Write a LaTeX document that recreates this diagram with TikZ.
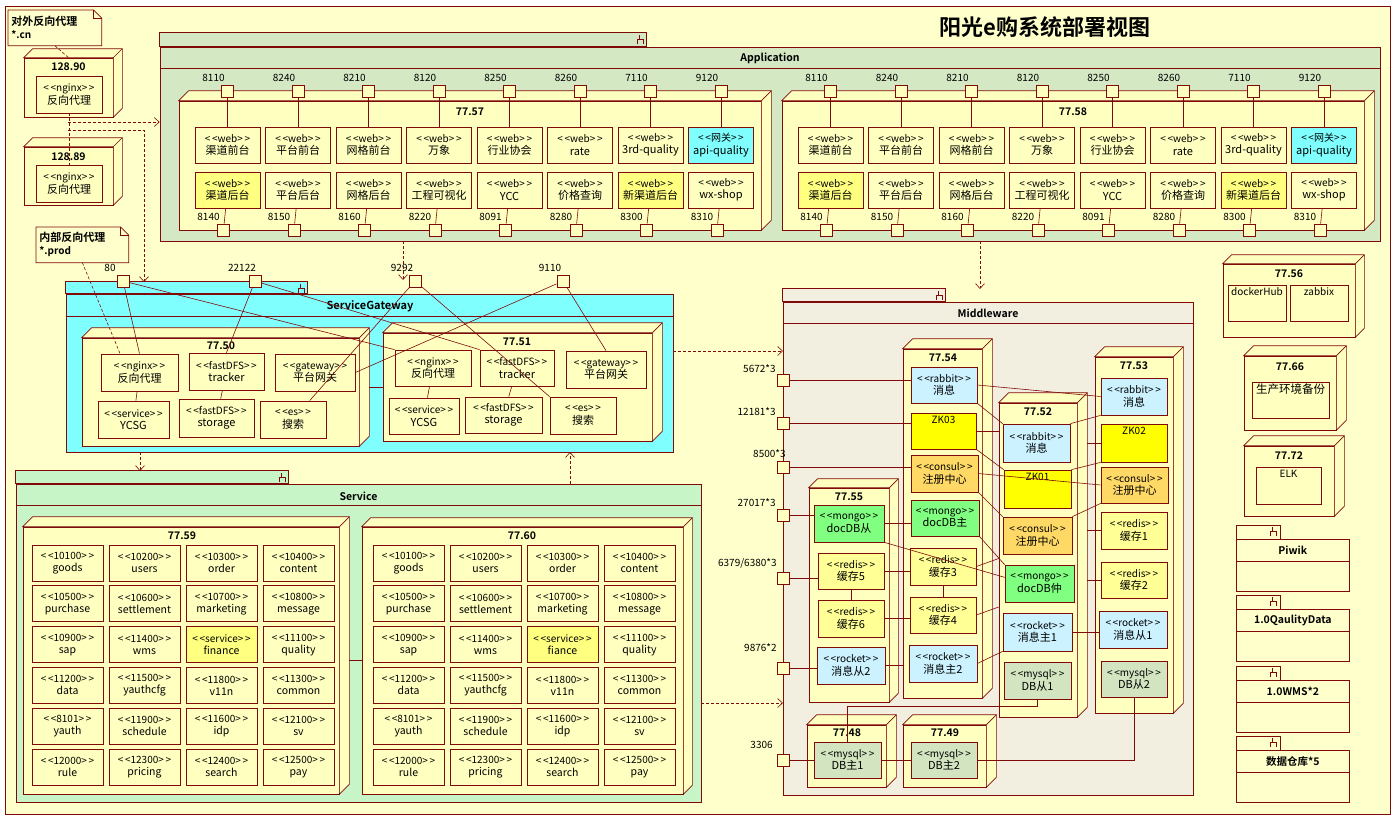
\documentclass[tikz,border=0pt]{standalone}
\usepackage{fontspec}
\setmainfont{Noto Sans CJK SC}[BoldFont={Noto Sans CJK SC Bold}]
\usetikzlibrary{arrows.meta,calc}

\definecolor{umlred}{RGB}{128,10,10}
\definecolor{bgyellow}{RGB}{255,255,204}
\definecolor{nodefill}{RGB}{255,255,192}
\definecolor{appgreen}{RGB}{212,232,196}
\definecolor{gwcyan}{RGB}{128,255,255}
\definecolor{svgreen}{RGB}{200,245,200}
\definecolor{mwbeige}{RGB}{242,238,224}
\definecolor{hlyellow}{RGB}{255,255,128}
\definecolor{palecyan}{RGB}{204,242,255}
\definecolor{zkyellow}{RGB}{255,255,0}
\definecolor{consulorange}{RGB}{255,217,102}
\definecolor{mongogreen}{RGB}{128,255,128}
\definecolor{redisyellow}{RGB}{255,255,150}
\definecolor{mysqlgreen}{RGB}{210,228,192}

% stereotype line, << >> kept as two signs each
\newcommand\stt[1]{{\fontsize{10}{11}\selectfont <\,<#1>\,>}}
% top and side faces of a device box
\newcommand\faces[2]{%
  \draw[dev] (#1.north west) -- ++(#2,-#2) -| ($(#1.south east)+(#2,-#2)$) -- (#1.south east) -- (#1.north east) -- cycle;
  \draw[umlred] (#1.north east) -- ++(#2,-#2);}
% little package sign in a tab
\newcommand\pkgicon[2]{%
  \draw[umlred, line width=0.5pt] (#1-10,#2+11) -- (#1-10,#2+6) -- (#1-4,#2+6) -- (#1-4,#2+11) (#1-8,#2+6) -- (#1-8,#2+2);}

\begin{document}
\begin{tikzpicture}[x=1pt, y=-1pt, line width=0.7pt,
    every node/.style={font=\fontsize{9}{11}\selectfont},
    dev/.style={draw=umlred, fill=nodefill},
    art/.style={draw=umlred, fill=nodefill, align=center, inner sep=0pt, minimum width=65, minimum height=36, font=\fontsize{11}{12.5}\selectfont},
    port/.style={draw=umlred, fill=nodefill, inner sep=0pt, minimum size=12},
    portlabel/.style={inner sep=0pt, font=\fontsize{10}{11}\selectfont},
    devtitle/.style={inner sep=0pt, font=\bfseries\fontsize{10.5}{12}\selectfont},
    pkg/.style={draw=umlred},
    pkgtitle/.style={inner sep=0pt, font=\bfseries\fontsize{10.5}{12}\selectfont},
    wire/.style={draw=umlred, line width=0.6pt},
    dashline/.style={draw=umlred, line width=0.6pt, dash pattern=on 3pt off 2pt},
    dep/.style={dashline, -{Straight Barb[length=5pt, width=9pt]}},
    lbltop/.style={anchor=north, inner sep=3pt, font=\fontsize{10}{11}\selectfont},
    note/.style={anchor=north west, align=left, inner sep=3pt, font=\bfseries\fontsize{11}{13}\selectfont}]

    \useasboundingbox (0,0) rectangle (1396,819);
    \fill[white] (0,0) rectangle (1396,819);
    \draw[umlred, fill=bgyellow] (5,6) rectangle (1390,814);

    \node[font=\bfseries\fontsize{22}{26}\selectfont] (title) at (1045,27) {阳光e购系统部署视图};

    % external proxies
    \node[note, text width=87, minimum height=35] (noteA) at (8,10) {对外反向代理\\{\fontsize{10}{12}\selectfont *.cn}};
    \draw[umlred] (noteA.north west) -- ($(noteA.north east)+(-8,0)$) -- ($(noteA.north east)+(0,8)$) -- (noteA.south east) -- (noteA.south west) -- cycle;
    \draw[umlred] ($(noteA.north east)+(-8,0)$) |- ($(noteA.north east)+(0,8)$);

    \node[dev, minimum width=89, minimum height=59, inner sep=0pt] (n90) at (68.5,87.5) {};
    \faces{n90}{9}
    \node[devtitle] (t90) at (68.5,67) {128.90};
    \node[art, minimum width=66, minimum height=37] (r90) at (69,94.5) {\stt{nginx}\\反向代理};

    \node[dev, minimum width=89, minimum height=58, inner sep=0pt] (n89) at (68.5,176) {};
    \faces{n89}{9}
    \node[devtitle] (t89) at (68.5,157) {128.89};
    \node[art, minimum width=66, minimum height=37] (r89) at (69,183.5) {\stt{nginx}\\反向代理};

    \draw[dashline] (noteA.south) -- (n90.north);
    \draw[dashline] (r90.south) -- (r89.north);

    \node[note, text width=86, minimum height=35] (noteB) at (36,227) {内部反向代理\\{\fontsize{10}{12}\selectfont *.prod}};
    \draw[umlred] (noteB.north west) -- ($(noteB.north east)+(-8,0)$) -- ($(noteB.north east)+(0,8)$) -- (noteB.south east) -- (noteB.south west) -- cycle;
    \draw[umlred] ($(noteB.north east)+(-8,0)$) |- ($(noteB.north east)+(0,8)$);

    % Application
    \node[pkg, fill=appgreen, minimum width=1220, minimum height=194, inner sep=0pt] (app) at (770,144) {};
    \draw[pkg, fill=appgreen] (app.north west) rectangle ++(487,-14);
    \pkgicon{647}{33}
    \draw[umlred] ($(app.north west)+(0,22)$) -- ($(app.north east)+(0,22)$);
    \node[pkgtitle] (appname) at (770,58) {Application};

    \foreach \h/\dx in {57/0,58/603}{
        \node[dev, minimum width=582, minimum height=129, inner sep=0pt] (n\h) at (470+\dx,165.5) {};
        \faces{n\h}{10}
        \node[devtitle] (t\h) at (470+\dx,112) {77.\h};
        \foreach \st/\nm/\fl/\pa [count=\k from 0] in {web/渠道前台/nodefill/8110, web/平台前台/nodefill/8240, web/网格前台/nodefill/8210, web/万象/nodefill/8120, web/行业协会/nodefill/8250, web/rate/nodefill/8260, web/3rd-quality/nodefill/7110, 网关/api-quality/gwcyan/9120}{
            \node[art, fill=\fl] (u\h-\k) at (227.5+\dx+70.5*\k,145) {\stt{\st}\\\nm};
            \node[port] (pu\h-\k) at (227.5+\dx+70.5*\k,91) {};
            \node[portlabel] (lu\h-\k) at (213.5+\dx+70.5*\k,78) {\pa};
            \draw[wire] (pu\h-\k) -- (u\h-\k);
        }
        \foreach \st/\nm/\fl/\pa [count=\k from 0] in {web/渠道后台/hlyellow/8140, web/平台后台/nodefill/8150, web/网格后台/nodefill/8160, web/工程可视化/nodefill/8220, web/YCC/nodefill/8091, web/价格查询/nodefill/8280, web/新渠道后台/hlyellow/8300, web/wx-shop/nodefill/8310}{
            \node[art, fill=\fl] (b\h-\k) at (227.5+\dx+70.5*\k,190) {\stt{\st}\\\nm};
            \node[port] (pb\h-\k) at (223.5+\dx+70.5*\k,230) {};
            \node[portlabel] (lb\h-\k) at (208.5+\dx+70.5*\k,217) {\pa};
            \draw[wire] (b\h-\k) -- (pb\h-\k);
        }
    }

    % ServiceGateway
    \node[pkg, fill=gwcyan, minimum width=607, minimum height=158, inner sep=0pt] (sg) at (369.5,373) {};
    \draw[pkg, fill=gwcyan] (sg.north west) rectangle ++(242,-12);
    \pkgicon{308}{282}
    \draw[umlred] ($(sg.north west)+(0,23)$) -- ($(sg.north east)+(0,23)$);
    \node[pkgtitle, font=\bfseries\fontsize{11}{13}\selectfont] (sgname) at (370,306) {ServiceGateway};

    \node[dev, minimum width=277, minimum height=108, inner sep=0pt] (n50) at (220.5,392) {};
    \faces{n50}{10}
    \node[devtitle] (t50) at (221,346) {77.50};
    \node[art, minimum width=77, minimum height=37] (g50nginx) at (139.5,372.5) {\stt{nginx}\\反向代理};
    \node[art, minimum width=75, minimum height=37] (g50tracker) at (226.5,371.5) {\stt{fastDFS}\\tracker};
    \node[art, minimum width=80, minimum height=37] (g50gateway) at (315,372.5) {\stt{gateway}\\平台网关};
    \node[art, minimum width=71, minimum height=37] (g50service) at (133.5,419.5) {\stt{service}\\YCSG};
    \node[art, minimum width=75, minimum height=38] (g50storage) at (216.5,418) {\stt{fastDFS}\\storage};
    \node[art, minimum width=66, minimum height=37] (g50es) at (293,419.5) {\stt{es}\\搜索};

    \node[dev, minimum width=269, minimum height=108, inner sep=0pt] (n51) at (517.5,387) {};
    \faces{n51}{10}
    \node[devtitle] (t51) at (517,342) {77.51};
    \node[art, minimum width=76] (g51nginx) at (433,368) {\stt{nginx}\\反向代理};
    \node[art, minimum width=74] (g51tracker) at (517,368) {\stt{fastDFS}\\tracker};
    \node[art, minimum width=80, minimum height=37] (g51gateway) at (606,369.5) {\stt{gateway}\\平台网关};
    \node[art, minimum width=70] (g51service) at (424,416) {\stt{service}\\YCSG};
    \node[art, minimum width=77] (g51storage) at (503.5,415) {\stt{fastDFS}\\storage};
    \node[art, minimum width=66, minimum height=37] (g51es) at (583,415.5) {\stt{es}\\搜索};

    \node[port] (p80) at (123,281) {};
    \node[port] (p22122) at (255,281) {};
    \node[port] (p9292) at (415,281) {};
    \node[port] (p9110) at (563,281) {};
    \node[portlabel] (l80) at (110,268) {80};
    \node[portlabel] (l22122) at (242,268) {22122};
    \node[portlabel] (l9292) at (402,268) {9292};
    \node[portlabel] (l9110) at (550,268) {9110};

    \draw[wire] (p80) -- (g50nginx.north);
    \draw[wire] (p80) -- (g51nginx.north west);
    \draw[wire] (p22122) -- (g50tracker.north);
    \draw[wire] (p22122) -- (g51tracker.north west);
    \draw[wire] (p9292) -- ($(g50es.north)!0.5!(g50es.north east)$);
    \draw[wire] (p9292) -- (g51es.north west);
    \draw[wire] (p9110) -- (g50gateway.east);
    \draw[wire] (p9110) -- (g51gateway.north);
    \draw[wire] (g50nginx) -- (g50service);
    \draw[wire] (g50tracker) -- (g50storage);
    \draw[wire] (g51nginx) -- (g51service);
    \draw[wire] (g51tracker) -- (g51storage);
    \draw[wire] (n51.west) -- ($(n51.west -| n50.east)+(10,0)$);
    \draw[dashline] (noteB.south) -- ($(g50nginx.north west)!0.5!(g50nginx.north)$);

    % Service
    \node[pkg, fill=svgreen, minimum width=685, minimum height=318, inner sep=0pt] (sv) at (358.5,643) {};
    \draw[pkg, fill=svgreen] (sv.north west) rectangle ++(273,-13);
    \pkgicon{289}{471}
    \draw[umlred] ($(sv.north west)+(0,22)$) -- ($(sv.north east)+(0,22)$);
    \node[pkgtitle] (svname) at (358.5,496) {Service};

    \node[dev, minimum width=316, minimum height=267, inner sep=0pt] (n59) at (181,660.5) {};
    \faces{n59}{10}
    \node[devtitle] (t59) at (182,536) {77.59};
    \node[dev, minimum width=321, minimum height=267, inner sep=0pt] (n60) at (522.5,660.5) {};
    \faces{n60}{9}
    \node[devtitle] (t60) at (522,536) {77.60};
    \draw[wire] (n60.west) -- ($(n60.west -| n59.east)+(10,0)$);

    \foreach \h/\xo/\fn in {59/67.5/finance, 60/408.5/fiance}{
        \foreach \st/\nm/\fl [count=\k from 0] in {10100/goods/nodefill, 10200/users/nodefill, 10300/order/nodefill, 10400/content/nodefill, 10500/purchase/nodefill, 10600/settlement/nodefill, 10700/marketing/nodefill, 10800/message/nodefill, 10900/sap/nodefill, 11400/wms/nodefill, service/\fn/hlyellow, 11100/quality/nodefill, 11200/data/nodefill, 11500/yauthcfg/nodefill, 11800/v11n/nodefill, 11300/common/nodefill, 8101/yauth/nodefill, 11900/schedule/nodefill, 11600/idp/nodefill, 12100/sv/nodefill, 12000/rule/nodefill, 12300/pricing/nodefill, 12400/search/nodefill, 12500/pay/nodefill}{
            \pgfmathtruncatemacro\rw{\k/4}
            \pgfmathtruncatemacro\cl{mod(\k,4)}
            \node[art, fill=\fl, minimum width=71, font=\fontsize{10.5}{12}\selectfont] (s\h-\k) at (\xo+77*\cl,563+40.8*\rw) {\stt{\st}\\\nm};
        }
    }

    % Middleware
    \node[pkg, fill=mwbeige, minimum width=410, minimum height=493, inner sep=0pt] (mw) at (988,548.5) {};
    \draw[pkg, fill=mwbeige] (mw.north west) rectangle ++(163,-13);
    \pkgicon{946}{289}
    \draw[umlred] ($(mw.north west)+(0,22)$) -- ($(mw.north east)+(0,22)$);
    \node[pkgtitle] (mwname) at (988,313) {Middleware};

    \node[dev, minimum width=80, minimum height=214, inner sep=0pt] (n55) at (849,595) {};
    \faces{n55}{9}
    \node[devtitle] (t55) at (849,497) {77.55};
    \node[dev, minimum width=79, minimum height=349, inner sep=0pt] (n54) at (942.5,523.5) {};
    \faces{n54}{10}
    \node[devtitle] (t54) at (943,358) {77.54};
    \node[dev, minimum width=78, minimum height=314, inner sep=0pt] (n52) at (1038,560) {};
    \faces{n52}{10}
    \node[devtitle] (t52) at (1038,412) {77.52};
    \node[dev, minimum width=78, minimum height=356, inner sep=0pt] (n53) at (1134,535) {};
    \faces{n53}{10}
    \node[devtitle] (t53) at (1134,366) {77.53};
    \node[dev, minimum width=79, minimum height=62, inner sep=0pt] (n48) at (846.5,756) {};
    \faces{n48}{10}
    \node[devtitle] (t48) at (847,733) {77.48};
    \node[dev, minimum width=83, minimum height=62, inner sep=0pt] (n49) at (944.5,756) {};
    \faces{n49}{10}
    \node[devtitle] (t49) at (945,733) {77.49};

    \node[art, fill=palecyan, minimum width=66] (m54rabbit) at (944,385) {\stt{rabbit}\\消息};
    \node[art, fill=zkyellow, label={[lbltop]north:ZK03}] (m54zk) at (943.5,431) {};
    \node[art, fill=consulorange, minimum width=67, minimum height=37] (m54consul) at (944.5,473.5) {\stt{consul}\\注册中心};
    \node[art, fill=mongogreen, minimum width=68] (m54mongo) at (945,518) {\stt{mongo}\\docDB主};
    \node[art, fill=redisyellow, minimum width=66, minimum height=37] (m54redis3) at (943,566.5) {\stt{redis}\\缓存3};
    \node[art, fill=redisyellow, minimum width=66] (m54redis4) at (943,615) {\stt{redis}\\缓存4};
    \node[art, fill=palecyan, minimum width=68, minimum height=37] (m54rocket) at (943,663.5) {\stt{rocket}\\消息主2};

    \node[art, fill=mongogreen, minimum width=70, minimum height=37] (m55mongo) at (849,523.5) {\stt{mongo}\\docDB从};
    \node[art, fill=redisyellow, minimum width=66] (m55redis5) at (851,571) {\stt{redis}\\缓存5};
    \node[art, fill=redisyellow, minimum width=66, minimum height=37] (m55redis6) at (851,618.5) {\stt{redis}\\缓存6};
    \node[art, fill=palecyan, minimum width=68, minimum height=37] (m55rocket) at (851,665.5) {\stt{rocket}\\消息从2};

    \node[art, fill=palecyan, minimum width=67, minimum height=38] (m52rabbit) at (1036.5,443) {\stt{rabbit}\\消息};
    \node[art, fill=zkyellow, minimum width=67, minimum height=38, label={[lbltop]north:ZK01}] (m52zk) at (1037.5,489) {};
    \node[art, fill=consulorange, minimum width=69, minimum height=37] (m52consul) at (1037.5,535.5) {\stt{consul}\\注册中心};
    \node[art, fill=mongogreen, minimum width=69, minimum height=37] (m52mongo) at (1039.5,583.5) {\stt{mongo}\\docDB仲};
    \node[art, fill=palecyan, minimum width=69, minimum height=38] (m52rocket) at (1037.5,632) {\stt{rocket}\\消息主1};
    \node[art, fill=mysqlgreen, minimum width=67, minimum height=37] (m52mysql) at (1037.5,680.5) {\stt{mysql}\\DB从1};

    \node[art, fill=palecyan, minimum width=66, minimum height=37] (m53rabbit) at (1134,396.5) {\stt{rabbit}\\消息};
    \node[art, fill=zkyellow, minimum width=66, minimum height=38, label={[lbltop]north:ZK02}] (m53zk) at (1134,443) {};
    \node[art, fill=consulorange, minimum width=67] (m53consul) at (1134.5,485) {\stt{consul}\\注册中心};
    \node[art, fill=redisyellow, minimum width=66, minimum height=37] (m53redis1) at (1134,530.5) {\stt{redis}\\缓存1};
    \node[art, fill=redisyellow, minimum width=66] (m53redis2) at (1134,580) {\stt{redis}\\缓存2};
    \node[art, fill=palecyan, minimum width=68, minimum height=37] (m53rocket) at (1133,629.5) {\stt{rocket}\\消息从1};
    \node[art, fill=mysqlgreen, minimum width=66] (m53mysql) at (1134,679) {\stt{mysql}\\DB从2};

    \node[art, fill=mysqlgreen, minimum width=67] (m48mysql) at (847.5,760) {\stt{mysql}\\DB主1};
    \node[art, fill=mysqlgreen, minimum width=66] (m49mysql) at (944,760) {\stt{mysql}\\DB主2};

    \node[port] (mq5672) at (783,380) {};
    \node[port] (mq12181) at (783,423) {};
    \node[port] (mq8500) at (783,467) {};
    \node[port] (mq27017) at (783,515) {};
    \node[port] (mq6379) at (783,578) {};
    \node[port] (mq9876) at (783,668) {};
    \node[port] (mq3306) at (783,760) {};
    \node[portlabel, anchor=east] (lq5672) at (776,369) {5672*3};
    \node[portlabel, anchor=east] (lq12181) at (776,412) {12181*3};
    \node[portlabel, anchor=east] (lq8500) at (786,454) {8500*3};
    \node[portlabel, anchor=east] (lq27017) at (776,503) {27017*3};
    \node[portlabel, anchor=east] (lq6379) at (777,563) {6379/6380*3};
    \node[portlabel, anchor=east] (lq9876) at (777,648) {9876*2};
    \node[portlabel, anchor=east] (lq3306) at (773,745) {3306};

    \draw[wire] (mq5672) -- (mq5672 -| m54rabbit.west);
    \draw[wire] (m54rabbit.east) -- (m53rabbit.west);
    \draw[wire] (m54rabbit.south east) -- (m52rabbit.north west);
    \draw[wire] (m52rabbit.north east) -- (m53rabbit.south west);
    \draw[wire] (mq12181) -- (mq12181 -| m54zk.west);
    \draw[wire] (m54zk.east) -- (m54zk.east -| n52.west);
    \draw[wire] (m53zk.west) -- ($(m53zk.west -| n52.east)+(10,0)$);
    \draw[wire] (m54zk.south east) -- (m52zk.north west);
    \draw[wire] (m52zk.north east) -- (m53zk.south west);
    \draw[wire] (mq8500) -- (mq8500 -| m54consul.west);
    \draw[wire] (m54consul.east) -- (m53consul.west);
    \draw[wire] (m54consul.south east) -- (m52consul.north west);
    \draw[wire] (m52consul.north east) -- (m53consul.south west);
    \draw[wire] (mq27017) -- (mq27017 -| m55mongo.west);
    \draw[wire] (m55mongo.east) -- (m55mongo.east -| m54mongo.west);
    \draw[wire] (m55mongo.south east) -- (m52mongo.170);
    \draw[wire] (m54mongo.south east) -- (m52mongo.north west);
    \draw[wire] (mq6379) -- (mq6379 -| m55redis5.west);
    \draw[wire] (m55redis5.east) -- (m55redis5.east -| m54redis3.west);
    \draw[wire] (m55redis5) -- (m55redis6);
    \draw[wire] (m55redis6.east) -- (m55redis6.east -| m54redis4.west);
    \draw[wire] (m54redis3) -- (m54redis4);
    \draw[wire] (m54redis3.east) -- ($(m54redis3.east -| n52.west)+(0,-8)$);
    \draw[wire] (m54redis4.east) -- ($(m54redis4.east -| n52.west)+(0,-8)$);
    \draw[wire] (m53redis1.west) -- ($(m53redis1.west -| n52.east)+(10,0)$);
    \draw[wire] (m53redis2.west) -- ($(m53redis2.west -| n52.east)+(10,0)$);
    \draw[wire] (mq9876) -- (mq9876 -| m55rocket.west);
    \draw[wire] (m55rocket.east) -- (m55rocket.east -| n54.west);
    \draw[wire] (m54rocket.east) -- (m52rocket.south west);
    \draw[wire] (m52rocket.east) -- (m52rocket.east -| m53rocket.west);
    \draw[wire] (mq3306) -- (mq3306 -| m48mysql.west);
    \draw[wire] (m48mysql) -- (m49mysql);
    \draw[wire] (m52mysql.south) |- ($(m48mysql.north)+(0,-35)$) -- (m48mysql.north);
    \draw[wire] (m53mysql.south) |- (m49mysql.east);

    % other servers
    \node[dev, minimum width=132, minimum height=73, inner sep=0pt] (n56) at (1289,300.5) {};
    \faces{n56}{9}
    \node[devtitle] (t56) at (1289,274) {77.56};
    \node[art, minimum width=58, label={[lbltop]north:dockerHub}] (docker) at (1257,303) {};
    \node[art, minimum width=58, label={[lbltop]north:zabbix}] (zabbix) at (1319,303) {};

    \node[dev, minimum width=92, minimum height=74, inner sep=0pt] (n66) at (1290,393) {};
    \faces{n66}{10}
    \node[devtitle] (t66) at (1290,367) {77.66};
    \node[art, minimum width=77, label={[lbltop, font=\fontsize{11.5}{13}\selectfont, inner sep=2pt]north:生产环境备份}] (backup) at (1290.5,400) {};

    \node[dev, minimum width=90, minimum height=70, inner sep=0pt] (n72) at (1289,481) {};
    \faces{n72}{10}
    \node[devtitle] (t72) at (1289,456) {77.72};
    \node[art, minimum width=65, minimum height=37, label={[lbltop]north:ELK}] (elk) at (1288.5,485.5) {};

    \foreach \pn/\yy [count=\k] in {Piwik/539, 1.0QaulityData/609, 1.0WMS*2/680, 数据仓库*5/750}{
        \node[pkg, fill=bgyellow, minimum width=113, minimum height=52, inner sep=0pt, anchor=north west] (pk\k) at (1236,\yy) {};
        \draw[pkg] (pk\k.north west) rectangle ++(44,-14);
        \pkgicon{1280}{\yy-14}
        \draw[umlred] ($(pk\k.north west)+(0,22)$) -- ($(pk\k.north east)+(0,22)$);
        \node[pkgtitle] (pkt\k) at ($(pk\k.north)+(0,11)$) {\pn};
    }

    % dependencies
    \coordinate (j1) at (68,122);
    \coordinate (j2) at (68,130);
    \coordinate (j3) at (144,282);
    \coordinate (j4) at (403,280);
    \coordinate (j5) at (980,289);
    \coordinate (j6) at (783,351);
    \coordinate (j7) at (140,471);
    \coordinate (j8) at (570,452);
    \coordinate (j9) at (783,703);
    \draw[dep] (j1) -- (j1 -| app.west);
    \draw[dep] (j2) -| (j3);
    \draw[dep] (app.south -| j4) -- (j4);
    \draw[dep] (app.south -| j5) -- (j5);
    \draw[dep] (j6 -| sg.east) -- (j6);
    \draw[dep] (sg.south -| j7) -- (j7);
    \draw[dep] (sv.north -| j8) -- (j8);
    \draw[dep] (j9 -| sv.east) -- (j9);
\end{tikzpicture}
\end{document}
